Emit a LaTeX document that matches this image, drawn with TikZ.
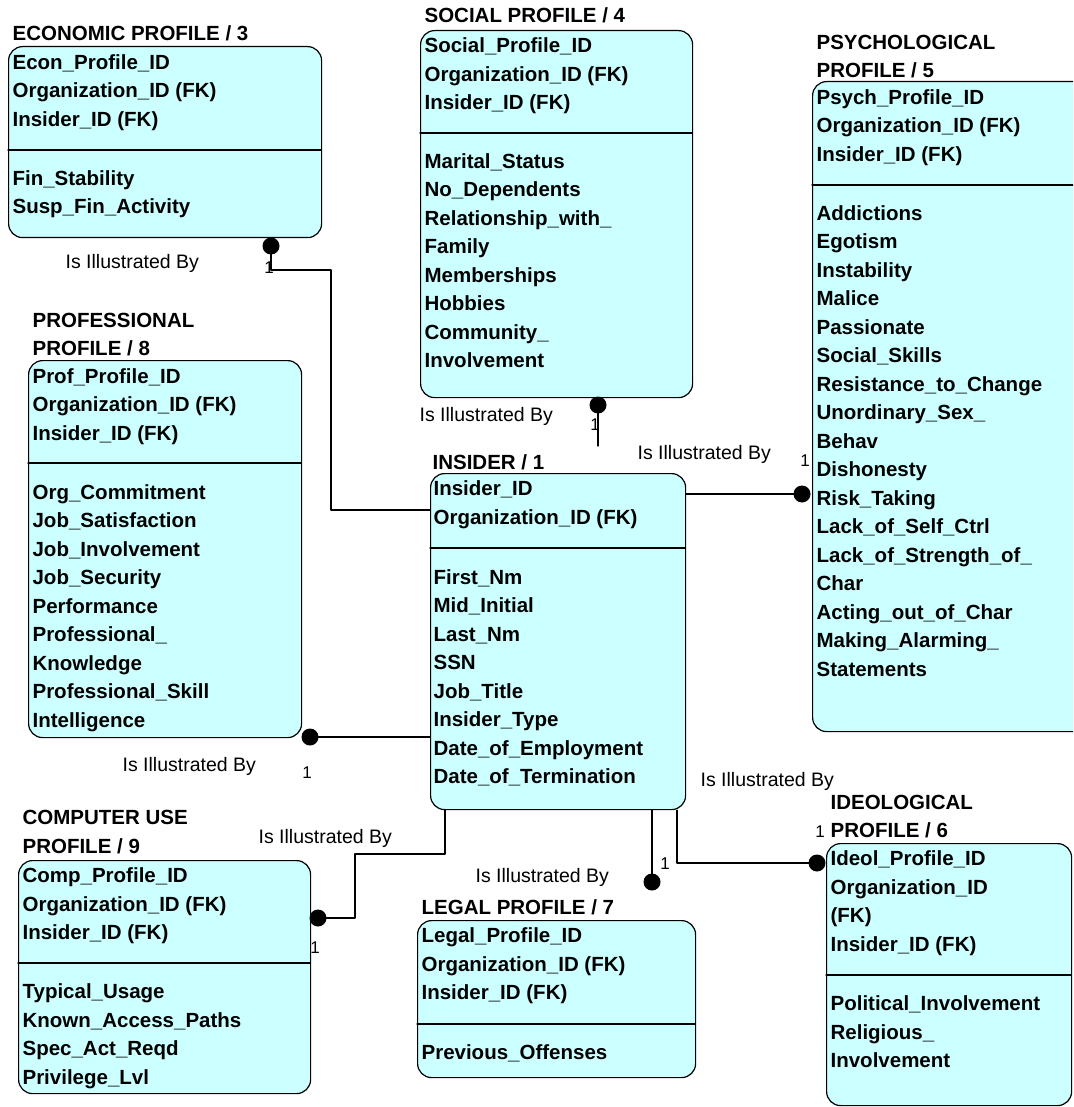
\documentclass[tikz,border=0pt]{standalone}
\usepackage{fontspec}
\setmainfont{Liberation Sans}
\definecolor{boxcyan}{RGB}{204,255,255}
\begin{document}
\begin{tikzpicture}[x=1pt,y=-1pt,line join=round,line cap=round,line width=1.2pt,
entity/.style={draw,fill=boxcyan,rounded corners=14pt,anchor=north west,inner sep=0pt},
attr/.style={anchor=west,inner sep=0pt,text height=14.7pt,text depth=0pt,font=\bfseries\fontsize{20.5}{24}\selectfont},
rel/.style={anchor=west,inner sep=0pt,text height=14pt,text depth=0pt,font=\fontsize{19.5}{22}\selectfont},
card/.style={inner sep=0pt,text height=12.2pt,text depth=0pt,font=\fontsize{17}{20}\selectfont},
dot/.style={circle,fill,inner sep=0pt,minimum size=17pt}]
\clip (0,0) rectangle (1073,1107);
% entity boxes
\node[entity,minimum width=313pt,minimum height=191pt] (econ) at (8,46) {};
\node[entity,minimum width=272pt,minimum height=367pt] (social) at (420,30) {};
\node[entity,minimum width=283pt,minimum height=650pt] (psych) at (812,81) {};
\node[entity,minimum width=273pt,minimum height=377pt] (prof) at (28,360) {};
\node[entity,minimum width=255pt,minimum height=336pt] (insider) at (430,473) {};
\node[entity,minimum width=292pt,minimum height=233pt] (comp) at (18,860) {};
\node[entity,minimum width=278pt,minimum height=157pt] (legal) at (417,920) {};
\node[entity,minimum width=245pt,minimum height=262pt] (ideol) at (826,843) {};
\draw (8,150)--(321,150) (420,133)--(692,133) (812,185)--(1095,185) (28,463)--(301,463)
(430,548)--(685,548) (18,963)--(310,963) (417,1024)--(695,1024) (826,975)--(1071,975);
% titles
\path
(12,33)node[attr](t3){ECONOMIC PROFILE / 3}
(424,15)node[attr](t4){SOCIAL PROFILE / 4}
(816,42)node[attr](t5){PSYCHOLOGICAL}
(816,70)node[attr](t5b){PROFILE / 5}
(32,320)node[attr](t8){PROFESSIONAL}
(32,348)node[attr](t8b){PROFILE / 8}
(432,462)node[attr](t1){INSIDER / 1}
(22,817)node[attr](t9){COMPUTER USE}
(22,846)node[attr](t9b){PROFILE / 9}
(421,907)node[attr](t7){LEGAL PROFILE / 7}
(830,802)node[attr](t6){IDEOLOGICAL}
(830,830)node[attr](t6b){PROFILE / 6}
;
% attributes
\foreach \t [count=\i from 0] in {Econ\_Profile\_ID,Organization\_ID (FK),Insider\_ID (FK)}
  \node[attr] (econ-k\i) at (12,{62+28.5*\i}) {\t};
\foreach \t [count=\i from 0] in {Fin\_Stability,Susp\_Fin\_Activity}
  \node[attr] (econ-a\i) at (12,{178+28.5*\i}) {\t};
\foreach \t [count=\i from 0] in {Social\_Profile\_ID,Organization\_ID (FK),Insider\_ID (FK)}
  \node[attr] (social-k\i) at (424,{45.5+28.5*\i}) {\t};
\foreach \t [count=\i from 0] in {Marital\_Status,No\_Dependents,Relationship\_with\_,Family,Memberships,Hobbies,Community\_,Involvement}
  \node[attr] (social-a\i) at (424,{161+28.5*\i}) {\t};
\foreach \t [count=\i from 0] in {Psych\_Profile\_ID,Organization\_ID (FK),Insider\_ID (FK)}
  \node[attr] (psych-k\i) at (816,{97+28.5*\i}) {\t};
\foreach \t [count=\i from 0] in {Addictions,Egotism,Instability,Malice,Passionate,Social\_Skills,Resistance\_to\_Change,Unordinary\_Sex\_,Behav,Dishonesty,Risk\_Taking,Lack\_of\_Self\_Ctrl,Lack\_of\_Strength\_of\_,Char,Acting\_out\_of\_Char,Making\_Alarming\_,Statements}
  \node[attr] (psych-a\i) at (816,{213+28.5*\i}) {\t};
\foreach \t [count=\i from 0] in {Prof\_Profile\_ID,Organization\_ID (FK),Insider\_ID (FK)}
  \node[attr] (prof-k\i) at (32,{376+28.5*\i}) {\t};
\foreach \t [count=\i from 0] in {Org\_Commitment,Job\_Satisfaction,Job\_Involvement,Job\_Security,Performance,Professional\_,Knowledge,Professional\_Skill,Intelligence}
  \node[attr] (prof-a\i) at (32,{492+28.5*\i}) {\t};
\foreach \t [count=\i from 0] in {Insider\_ID,Organization\_ID (FK)}
  \node[attr] (insider-k\i) at (433,{488.5+28.5*\i}) {\t};
\foreach \t [count=\i from 0] in {First\_Nm,Mid\_Initial,Last\_Nm,SSN,Job\_Title,Insider\_Type,Date\_of\_Employment,Date\_of\_Termination}
  \node[attr] (insider-a\i) at (433,{577+28.5*\i}) {\t};
\foreach \t [count=\i from 0] in {Comp\_Profile\_ID,Organization\_ID (FK),Insider\_ID (FK)}
  \node[attr] (comp-k\i) at (22,{875.5+28.5*\i}) {\t};
\foreach \t [count=\i from 0] in {Typical\_Usage,Known\_Access\_Paths,Spec\_Act\_Reqd,Privilege\_Lvl}
  \node[attr] (comp-a\i) at (22,{991.5+28.5*\i}) {\t};
\foreach \t [count=\i from 0] in {Legal\_Profile\_ID,Organization\_ID (FK),Insider\_ID (FK)}
  \node[attr] (legal-k\i) at (421,{935.5+28.5*\i}) {\t};
\node[attr] (legal-a0) at (421,1052.5) {Previous\_Offenses};
\foreach \t [count=\i from 0] in {Ideol\_Profile\_ID,Organization\_ID,(FK),Insider\_ID (FK)}
  \node[attr] (ideol-k\i) at (830,{858.5+28.5*\i}) {\t};
\foreach \t [count=\i from 0] in {Political\_Involvement,Religious\_,Involvement}
  \node[attr] (ideol-a\i) at (830,{1003.5+28.5*\i}) {\t};
% relationship ends
\path
(271,246)node[dot](d3){}
(598,405)node[dot](d4){}
(802,494)node[dot](d5){}
(310,737)node[dot](d8){}
(318,918)node[dot](d9){}
(652,882)node[dot](d7){}
(817,863)node[dot](d6){}
;
\coordinate (c3) at (331,510);
\coordinate (c4) at (598,446);
\coordinate (c9) at (445,854);
\coordinate (c6) at (677,863);
\draw (d3.center) |- (c3 |- 0,270) |- (insider.west |- c3);
\draw (d4.center) -- (c4);
\draw (insider.east |- d5) -- (d5.center);
\draw (d8.center) -- (insider.west |- d8);
\draw (c9 |- insider.south) |- (355,854) |- (d9.center);
\draw (d7 |- insider.south) -- (d7.center);
\draw (c6 |- insider.south) -- (c6) -- (d6.center);
% labels
\path
(65,261)node[rel](r3){Is Illustrated By}
(419,414)node[rel](r4){Is Illustrated By}
(637,452)node[rel](r5){Is Illustrated By}
(122,764)node[rel](r8){Is Illustrated By}
(258,836)node[rel](r9){Is Illustrated By}
(475,875)node[rel](r7){Is Illustrated By}
(700,779)node[rel](r6){Is Illustrated By}
(269,267)node[card](n3){1}
(595,424)node[card](n4){1}
(805,460)node[card](n5){1}
(307,772)node[card](n8){1}
(315,947)node[card](n9){1}
(665,863)node[card](n7){1}
(820,831)node[card](n6){1}
;
\end{tikzpicture}
\end{document}
